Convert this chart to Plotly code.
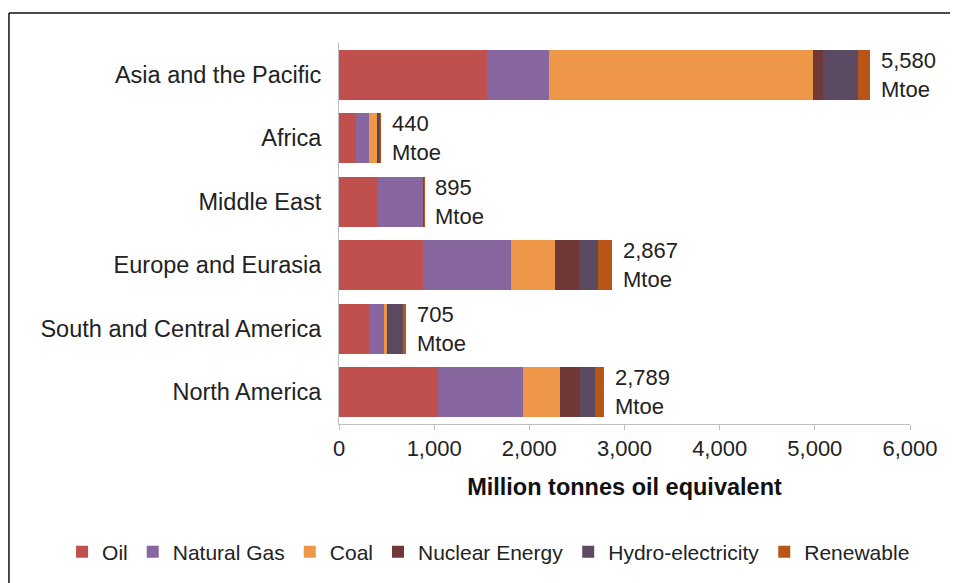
import plotly.graph_objects as go

regions = ["North America", "South and Central America", "Europe and Eurasia",
           "Middle East", "Africa", "Asia and the Pacific"]
oil = [1045, 315, 880, 410, 180, 1560]
natural_gas = [890, 160, 930, 478, 130, 650]
coal = [385, 35, 455, 3, 95, 2770]
nuclear = [215, 5, 255, 1, 3, 105]
hydro = [155, 160, 200, 2, 30, 365]
renewable = [99, 30, 147, 1, 2, 130]
totals = [2789, 705, 2867, 895, 440, 5580]

series = [
    ("Oil", oil, "#C0504D"),
    ("Natural Gas", natural_gas, "#8866A0"),
    ("Coal", coal, "#EE9748"),
    ("Nuclear Energy", nuclear, "#703836"),
    ("Hydro-electricity", hydro, "#5C4A63"),
    ("Renewable", renewable, "#B85618"),
]

fig = go.Figure()
for name, vals, col in series:
    fig.add_trace(go.Bar(y=regions, x=vals, name=name, orientation="h",
                         marker=dict(color=col, line=dict(width=0))))

for r, t in zip(regions, totals):
    fig.add_annotation(x=t, y=r, xref="x", yref="y", text=f"{t:,}<br>Mtoe",
                       showarrow=False, xanchor="left", xshift=9, align="left",
                       font=dict(size=22, color="#222"))

# outer frame
fig.add_shape(type="line", xref="paper", yref="paper", x0=-0.578, x1=1.2,
              y0=1.0785, y1=1.0785, line=dict(color="#111", width=1.5))
fig.add_shape(type="line", xref="paper", yref="paper", x0=-0.578, x1=-0.578,
              y0=1.0785, y1=-0.5, line=dict(color="#111", width=1.5))

fig.update_layout(
    width=950, height=575,
    margin=dict(l=331, r=48, t=35, b=158),
    barmode="stack", bargap=0.21,
    paper_bgcolor="white", plot_bgcolor="white",
    font=dict(family="Liberation Sans, Arial, sans-serif", color="#222"),
    showlegend=True,
    legend=dict(orientation="h", x=-0.485, xanchor="left", y=-0.333, yanchor="middle",
                font=dict(size=21, color="#222"), traceorder="normal", itemwidth=30),
    xaxis=dict(range=[0, 6000], tickvals=[0, 1000, 2000, 3000, 4000, 5000, 6000],
               tickformat=",d", showgrid=False, zeroline=False,
               showline=True, linecolor="#BFBFBF", linewidth=1,
               ticks="outside", tickcolor="#BFBFBF", ticklen=5,
               tickfont=dict(size=22, color="#222"),
               title=dict(text="<b>Million tonnes oil equivalent</b>", standoff=18,
                          font=dict(size=23.5, color="#111"))),
    yaxis=dict(categoryorder="array", categoryarray=regions, showgrid=False,
               zeroline=False, showline=True, linecolor="#BFBFBF", linewidth=1,
               ticks="", ticklabelstandoff=12,
               tickfont=dict(size=23.5, color="#222")),
)

fig.write_html("out.html")
